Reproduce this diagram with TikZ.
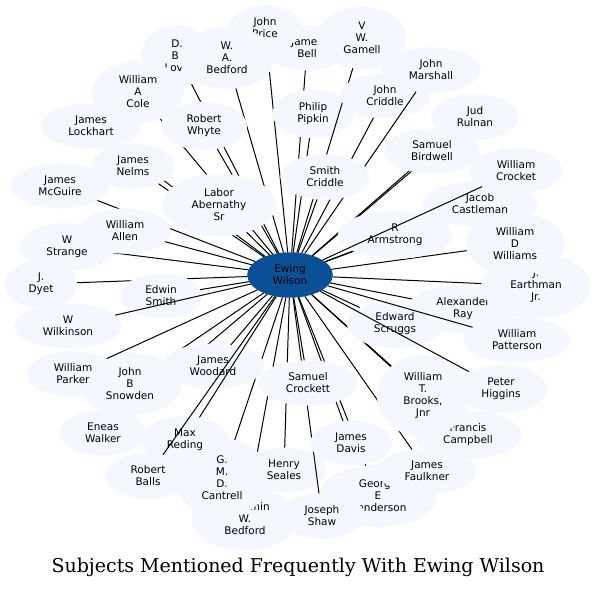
\documentclass[tikz,border=0pt]{standalone}
\usepackage{fontspec}
\setmainfont{DejaVu Sans}
\newfontfamily\titlefont{DejaVu Serif}
\usetikzlibrary{shapes.geometric}
\definecolor{nodefill}{HTML}{F4F8FE}
\definecolor{centerfill}{HTML}{0B5096}
\tikzset{
  subj/.style={ellipse, fill=nodefill, draw=none, align=center, inner xsep=13pt, inner ysep=6pt, outer sep=0pt, font=\fontsize{10.5}{12}\selectfont},
  hub/.style={subj, fill=centerfill},
  link/.style={draw=black, line width=1pt},
}
\begin{document}
\begin{tikzpicture}[x=1pt,y=-1pt]
\useasboundingbox (0,0) rectangle (594,589);
\fill[white] (0,0) rectangle (594,589);
\node[hub] (ew) at (290,275) {Ewing\\Wilson};
\node[subj] (jbell) at (307,48) {James\\Bell}; \draw[link] (ew) -- (jbell);
\node[subj] (jprice) at (265,28) {John\\Price}; \draw[link] (ew) -- (jprice);
\node[subj] (dblove) at (177,56) {D.\\B.\\Love}; \draw[link] (ew) -- (dblove);
\node[subj] (wabed) at (227,58) {W.\\A.\\Bedford}; \draw[link] (ew) -- (wabed);
\node[subj] (cole) at (138,92) {William\\A\\Cole}; \draw[link] (ew) -- (cole);
\node[subj] (lockhart) at (91,126) {James\\Lockhart}; \draw[link] (ew) -- (lockhart);
\node[subj] (mcguire) at (60,186) {James\\McGuire}; \draw[link] (ew) -- (mcguire);
\node[subj] (nelms) at (133,166) {James\\Nelms}; \draw[link] (ew) -- (nelms);
\node[subj] (rulnan) at (475,117) {Jud\\Rulnan}; \draw[link] (ew) -- (rulnan);
\node[subj] (birdwell) at (432,151) {Samuel\\Birdwell}; \draw[link] (ew) -- (birdwell);
\node[subj] (strange) at (67,247) {W\\Strange}; \draw[link] (ew) -- (strange);
\node[subj] (dyet) at (41,284) {J.\\Dyet}; \draw[link] (ew) -- (dyet);
\node[subj] (walker) at (103,433) {Eneas\\Walker}; \draw[link] (ew) -- (walker);
\node[subj] (snowden) at (130,384) {John\\B\\Snowden}; \draw[link] (ew) -- (snowden);
\node[subj] (parker) at (73,374) {William\\Parker}; \draw[link] (ew) -- (parker);
\node[subj] (bwbed) at (245,519) {Benjamin\\W.\\Bedford}; \draw[link] (ew) -- (bwbed);
\node[subj] (cantrell) at (222,478) {G.\\M.\\D.\\Cantrell}; \draw[link] (ew) -- (cantrell);
\node[subj] (seales) at (284,470) {Henry\\Seales}; \draw[link] (ew) -- (seales);
\node[subj] (henderson) at (378,496) {George\\E\\Henderson}; \draw[link] (ew) -- (henderson);
\node[subj] (shaw) at (322,516) {Joseph\\Shaw}; \draw[link] (ew) -- (shaw);
\node[subj] (faulkner) at (427,471) {James\\Faulkner}; \draw[link] (ew) -- (faulkner);
\node[subj] (campbell) at (468,435) {Francis\\Campbell}; \draw[link] (ew) -- (campbell);
\node[subj] (brooks) at (423,396) {William\\T.\\Brooks,\\Jnr}; \draw[link] (ew) -- (brooks);
\node[subj] (castleman) at (480,204) {Jacob\\Castleman}; \draw[link] (ew) -- (castleman);
\node[subj] (ray) at (463,309) {Alexander\\Ray}; \draw[link] (ew) -- (ray);
\node[subj] (earthman) at (536,286) {J.\\Earthman\\Jr.}; \draw[link] (ew) -- (earthman);
\node[subj] (wdw) at (515,244) {William\\D\\Williams}; \draw[link] (ew) -- (wdw);
\node[subj] (whyte) at (204,126) {Robert\\Whyte}; \draw[link] (ew) -- (whyte);
\node[subj] (abernathy) at (219,205) {Labor\\Abernathy\\Sr}; \draw[link] (ew) -- (abernathy);
\node[subj] (pipkin) at (313,114) {Philip\\Pipkin}; \draw[link] (ew) -- (pipkin);
\node[subj] (gamell) at (362,38) {V\\W.\\Gamell}; \draw[link] (ew) -- (gamell);
\node[subj] (jcriddle) at (385,96) {John\\Criddle}; \draw[link] (ew) -- (jcriddle);
\node[subj] (marshall) at (431,70) {John\\Marshall}; \draw[link] (ew) -- (marshall);
\node[subj] (scriddle) at (325,177) {Smith\\Criddle}; \draw[link] (ew) -- (scriddle);
\node[subj] (allen) at (125,231) {William\\Allen}; \draw[link] (ew) -- (allen);
\node[subj] (esmith) at (161,296) {Edwin\\Smith}; \draw[link] (ew) -- (esmith);
\node[subj] (wilkinson) at (68,326) {W\\Wilkinson}; \draw[link] (ew) -- (wilkinson);
\node[subj] (armstrong) at (395,235) {R\\Armstrong}; \draw[link] (ew) -- (armstrong);
\node[subj] (crocket) at (516,171) {William\\Crocket}; \draw[link] (ew) -- (crocket);
\node[subj] (scruggs) at (395,324) {Edward\\Scruggs}; \draw[link] (ew) -- (scruggs);
\node[subj] (higgins) at (501,389) {Peter\\Higgins}; \draw[link] (ew) -- (higgins);
\node[subj] (patterson) at (517,340) {William\\Patterson}; \draw[link] (ew) -- (patterson);
\node[subj] (woodard) at (213,366) {James\\Woodard}; \draw[link] (ew) -- (woodard);
\node[subj] (reding) at (185,440) {Max\\Reding}; \draw[link] (ew) -- (reding);
\node[subj] (balls) at (148,476) {Robert\\Balls}; \draw[link] (ew) -- (balls);
\node[subj] (davis) at (351,443) {James\\Davis}; \draw[link] (ew) -- (davis);
\node[subj] (crockett) at (308,383) {Samuel\\Crockett}; \draw[link] (ew) -- (crockett);
\node (title) at (298,567) {\titlefont\fontsize{19}{22}\selectfont Subjects Mentioned Frequently With Ewing Wilson};
\end{tikzpicture}
\end{document}
